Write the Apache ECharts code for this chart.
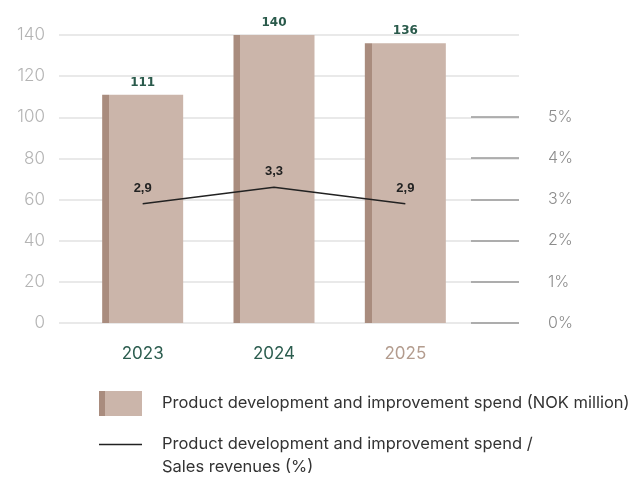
<!DOCTYPE html>
<html>
<head>
<meta charset="utf-8">
<script src="https://cdn.jsdelivr.net/npm/echarts@6/dist/echarts.min.js"></script>
<style>
html,body{margin:0;padding:0;background:#fff;}
#chart{width:635px;height:477px;}
</style>
</head>
<body>
<div id="chart"></div>
<script>
const categories = ['2023', '2024', '2025'];
const spendValues = [111, 140, 136];
const ratioValues = [2.9, 3.3, 2.9];
const leftTicks = [0, 140, 20];
const rightTicks = [0, 5, 1];
const barName = 'Product development and improvement spend (NOK million)';
const lineName = 'Product development and improvement spend /\nSales revenues (%)';

const catColors = ['#2c5d4f', '#2c5d4f', '#b39c8e'];
const darkBar = '#a98c7e', lightBar = '#cbb5aa';
const FONT = 'Inter, Roboto, sans-serif';

function strip(frac) {
  return new echarts.graphic.LinearGradient(0, 0, 1, 0, [
    {offset: 0, color: darkBar}, {offset: frac, color: darkBar},
    {offset: frac, color: lightBar}, {offset: 1, color: lightBar}
  ]);
}

const chart = echarts.init(document.getElementById('chart'));
chart.setOption({
  animation: false,
  textStyle: {fontFamily: FONT},
  grid: [
    {left: 59, right: 116, top: 35, bottom: 154},
    {left: 77, right: 164, top: 35, bottom: 154},
    {left: 471, right: 116, top: 117, bottom: 154}
  ],
  xAxis: [
    {gridIndex: 0, type: 'value', show: false, min: 0, max: 1},
    {gridIndex: 1, type: 'category',
     data: categories.map((c, i) => ({value: c, textStyle: {color: catColors[i]}})),
     axisLine: {show: false}, axisTick: {show: false},
     axisLabel: {fontSize: 17, margin: 22, fontFamily: FONT}},
    {gridIndex: 2, type: 'value', show: false, min: 0, max: 1}
  ],
  yAxis: [
    {gridIndex: 0, type: 'value', min: leftTicks[0], max: leftTicks[1], interval: leftTicks[2],
     axisLine: {show: false}, axisTick: {show: false},
     axisLabel: {color: '#b4b4b4', fontSize: 17, margin: 14, fontFamily: FONT, fontWeight: 300},
     splitLine: {lineStyle: {color: '#e2e2e2', width: 1.5}}},
    {gridIndex: 1, type: 'value', show: false, min: leftTicks[0], max: leftTicks[1], splitLine: {show: false}},
    {gridIndex: 1, type: 'value', show: false, position: 'right', min: 0, max: leftTicks[1] / 20, splitLine: {show: false}},
    {gridIndex: 2, type: 'value', position: 'right', min: rightTicks[0], max: rightTicks[1], interval: rightTicks[2],
     axisLine: {show: false}, axisTick: {show: false},
     axisLabel: {formatter: '{value}%', color: '#8c8c8c', fontSize: 16, margin: 29, fontFamily: FONT, fontWeight: 300},
     splitLine: {lineStyle: {color: '#9a9a9a', width: 1.5}}}
  ],
  legend: [
    {left: 99, top: 391, padding: 0, orient: 'vertical', icon: 'rect',
     itemWidth: 43, itemHeight: 25,
     data: [{name: barName, itemStyle: {color: strip(0.14)}}],
     textStyle: {fontSize: 16.5, color: '#333', fontFamily: FONT, padding: [0, 0, 0, 15]}},
    {left: 99, top: 433, padding: 0, orient: 'vertical',
     itemWidth: 43, itemHeight: 46,
     data: [{name: lineName, icon: 'path://M0,10.75H43V12.25H0ZM0,0h0.01v0.01h-0.01ZM42.99,46h0.01v0.01h-0.01Z',
             itemStyle: {color: '#222'}}],
     textStyle: {fontSize: 16.5, color: '#333', fontFamily: FONT, lineHeight: 23, padding: [0, 0, 0, 15]}}
  ],
  series: [
    {name: barName, type: 'bar', xAxisIndex: 1, yAxisIndex: 1, data: spendValues, barWidth: 81,
     itemStyle: {color: strip(0.086)},
     label: {show: true, position: 'top', distance: 6, color: '#2a5a4b', fontWeight: 'bold', fontSize: 12, fontFamily: 'DejaVu Sans'}},
    {name: lineName, type: 'line', xAxisIndex: 1, yAxisIndex: 2, data: ratioValues,
     symbol: 'circle', symbolSize: 0.01, showSymbol: true,
     lineStyle: {color: '#222', width: 1.5}, itemStyle: {color: '#222'},
     label: {show: true, position: 'top', distance: 9, color: '#222', fontWeight: 'bold', fontSize: 13, fontFamily: 'Liberation Sans',
             formatter: p => String(p.value).replace('.', ',')}}
  ]
});
</script>
</body>
</html>
